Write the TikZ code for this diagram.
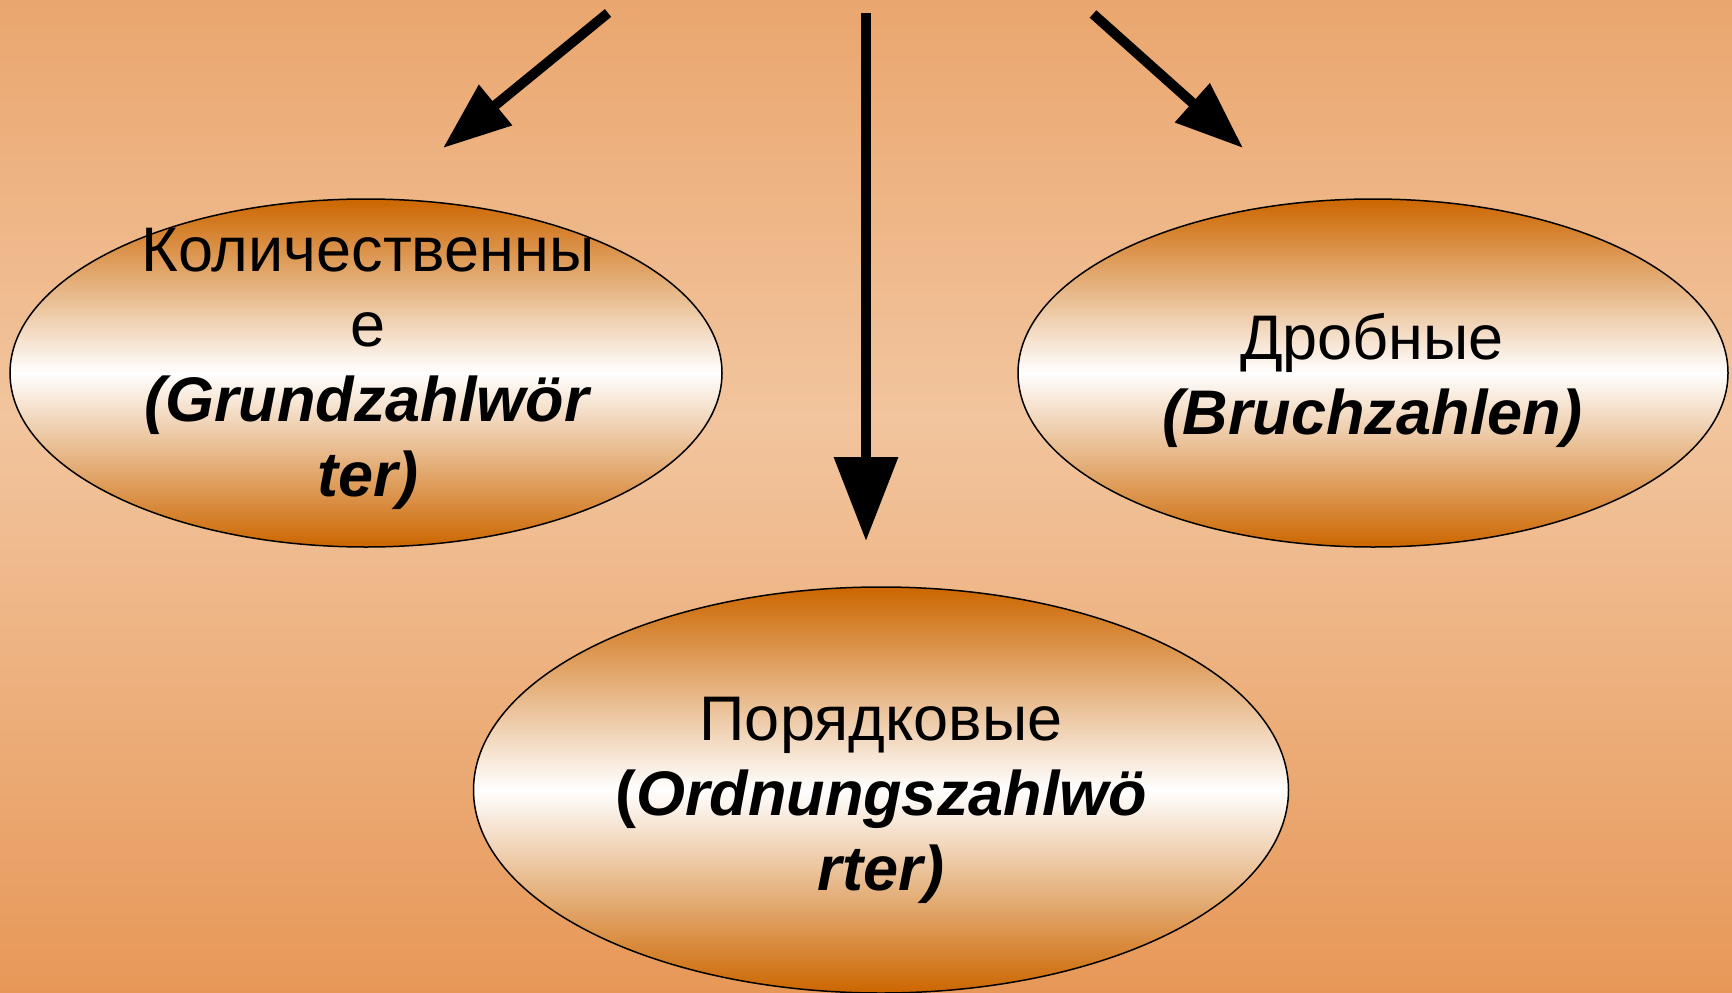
\documentclass[tikz,border=0pt]{standalone}
\usepackage{fontspec}
\setmainfont{Liberation Sans}
\usetikzlibrary{shapes.geometric,arrows.meta}
\definecolor{bgtop}{RGB}{234,166,110}
\definecolor{bgmid}{RGB}{242,197,158}
\definecolor{bgbot}{RGB}{231,152,88}
\definecolor{ellorange}{RGB}{204,102,0}
\pgfdeclareverticalshading{bgshade}{100bp}{color(0bp)=(bgbot); color(25bp)=(bgbot); color(54bp)=(bgmid); color(75bp)=(bgtop); color(100bp)=(bgtop)}
\tikzset{
  ell/.style={shape=ellipse, draw=black, line width=1.5pt, inner sep=0pt,
    top color=ellorange, bottom color=ellorange, middle color=white},
  lbl/.style={align=center, inner sep=0pt, font=\fontsize{63}{75}\selectfont},
  arr/.style={line width=10pt, draw=black},
}
\newcommand{\bfit}[1]{\textbf{\textit{#1}}}
\begin{document}
\begin{tikzpicture}[x=1pt,y=-1pt]
\useasboundingbox (0,0) rectangle (1732,993);
\shade[shading=bgshade] (0,0) rectangle (1732,993);
% ellipses
\node[ell, minimum width=712pt, minimum height=348pt] (kol) at (366,373) {};
\node[ell, minimum width=710pt, minimum height=348pt] (dro) at (1373,373) {};
\node[ell, minimum width=815pt, minimum height=406pt] (por) at (881,790) {};
% labels
\node[lbl] (kolt) at (368,368.6) {Количественны\\е\\\bfit{(Grundzahlwör}\\\bfit{ter)}};
\node[lbl] (drot) at (1372,380.6) {Дробные\\\bfit{(Bruchzahlen)}};
\node[lbl] (port) at (881,800) {Порядковые\\\textbf{(}\bfit{Ordnungszahlwö}\\\bfit{rter)}};
% arrows
\coordinate (s1) at (608,13);
\coordinate (t1) at (443,148);
\coordinate (s2) at (866,13);
\coordinate (t2) at (866,541);
\coordinate (s3) at (1093,14);
\coordinate (t3) at (1243,148);
\draw[arr, -{Triangle[length=68pt,width=50pt]}] (s1) -- (t1);
\draw[arr, -{Triangle[length=84pt,width=62pt]}] (s2) -- (t2);
\draw[arr, -{Triangle[length=68pt,width=50pt]}] (s3) -- (t3);
\end{tikzpicture}
\end{document}
